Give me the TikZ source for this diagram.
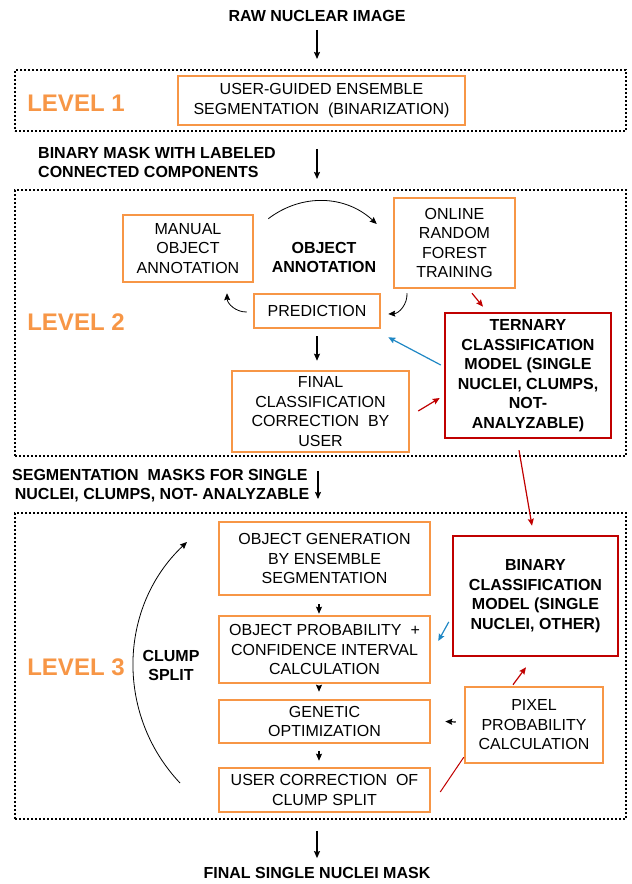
\documentclass[tikz,border=0pt]{standalone}
\usepackage{fontspec}
\setmainfont{Liberation Sans}
\usetikzlibrary{arrows.meta}
\definecolor{boxorange}{RGB}{247,150,70}
\definecolor{modelred}{RGB}{192,0,0}
\definecolor{arrowblue}{RGB}{31,135,196}

\begin{document}
\begin{tikzpicture}[x=1pt,y=1pt,
    every node/.style={font=\fontsize{16}{19.5}\selectfont},
    frame/.style={draw, line width=2pt, dash pattern=on 2pt off 2pt, inner sep=0pt},
    obox/.style={draw=boxorange, line width=2.5pt, align=center, inner sep=0pt},
    rbox/.style={draw=modelred, line width=2.5pt, align=center, inner sep=0pt, font=\fontsize{16}{19.5}\selectfont\bfseries},
    head/.style={inner sep=0pt, align=center, font=\fontsize{16}{19}\selectfont\bfseries},
    level/.style={inner sep=0pt, text=boxorange, font=\fontsize{24}{28}\selectfont\bfseries},
    arr/.style={-{Stealth[length=7pt,width=6pt,inset=1pt]}, line width=1.2pt},
    thinarr/.style={-{Stealth[length=7pt,width=6pt,inset=1pt]}, line width=0.8pt}]
    \useasboundingbox (0,0) rectangle (632,884);

    \node[frame, minimum width=611pt, minimum height=61pt] (lvlone) at (320.5,783.5) {}; % Level 1 frame
    \node[frame, minimum width=611pt, minimum height=266pt] (lvltwo) at (320.5,561) {}; % Level 2 frame
    \node[frame, minimum width=611pt, minimum height=306pt] (lvlthree) at (320.5,218) {}; % Level 3 frame

    \node[head] (raw) at (317,868) {RAW NUCLEAR IMAGE};
    \node[level] (levelone) at (76,781) {LEVEL 1};
    \node[obox, minimum width=287pt, minimum height=49pt] (binarize) at (321.5,783.5) {USER-GUIDED ENSEMBLE\\SEGMENTATION\ \ (BINARIZATION)};
    \node[head, align=left, anchor=west] (binmask) at (38,721.5) {BINARY MASK WITH LABELED\\CONNECTED COMPONENTS};

    % Level 2
    \node[level] (leveltwo) at (76,562) {LEVEL 2};
    \node[obox, minimum width=130pt, minimum height=67pt] (manual) at (188,635.5) {MANUAL\\OBJECT\\ANNOTATION};
    \node[head] (objann) at (324,627) {OBJECT\\ANNOTATION};
    \node[obox, minimum width=121pt, minimum height=90pt] (online) at (454.5,641) {ONLINE\\RANDOM\\FOREST\\TRAINING};
    \node[obox, minimum width=126pt, minimum height=34pt] (pred) at (317,573) {PREDICTION};
    \node[obox, minimum width=177pt, minimum height=81pt] (final) at (320.5,472.5) {FINAL\\CLASSIFICATION\\CORRECTION\ \ BY\\USER};
    \node[rbox, minimum width=166pt, minimum height=125pt] (ternary) at (528,508.5) {TERNARY\\CLASSIFICATION\\MODEL (SINGLE\\NUCLEI, CLUMPS,\\NOT-\\ANALYZABLE)};
    \node[head, align=left, anchor=west] (segmask) at (12,398.5) {SEGMENTATION\ \ MASKS FOR SINGLE\\\,NUCLEI, CLUMPS, NOT- ANALYZABLE};

    % Level 3
    \node[level] (levelthree) at (76,217) {LEVEL 3};
    \node[head] (clump) at (171,219) {CLUMP\\SPLIT};
    \node[obox, minimum width=211pt, minimum height=73pt] (objgen) at (324.5,325.5) {OBJECT GENERATION\\BY ENSEMBLE\\SEGMENTATION};
    \node[obox, minimum width=211pt, minimum height=67pt] (objprob) at (324.5,234.5) {OBJECT PROBABILITY\ \ +\\CONFIDENCE INTERVAL\\CALCULATION};
    \node[obox, minimum width=211pt, minimum height=43pt] (genetic) at (324.5,162.5) {GENETIC\\OPTIMIZATION};
    \node[obox, minimum width=211pt, minimum height=44pt] (usercorr) at (324.5,94) {USER CORRECTION\ \ OF\\CLUMP SPLIT};
    \node[rbox, minimum width=165pt, minimum height=120pt] (binary) at (535.5,288) {BINARY\\CLASSIFICATION\\MODEL (SINGLE\\NUCLEI, OTHER)};
    \node[obox, minimum width=138pt, minimum height=76pt] (pixel) at (534,159) {PIXEL\\PROBABILITY\\CALCULATION};
    \node[head] (finaltxt) at (317,11) {FINAL SINGLE NUCLEI MASK};
    \coordinate (splitlow) at (180,101);
    \coordinate (splithigh) at (187,342);

    % main flow
    \draw[arr, shorten <=8pt, shorten >=10pt] (raw.south) -- (raw.south |- lvlone.north);
    \draw[arr, shorten <=17pt, shorten >=10pt] (raw.south |- lvlone.south) -- (raw.south |- lvltwo.north);
    \draw[arr, shorten <=14pt, shorten >=13pt] ([xshift=1pt]raw.south |- lvltwo.south) -- ([xshift=1pt]raw.south |- lvlthree.north);
    \draw[arr, shorten <=11pt, shorten >=9pt] (raw.south |- lvlthree.south) -- (finaltxt.north);

    % annotation loop
    \draw[thinarr] ([xshift=14pt,yshift=-5pt]manual.north east) to[bend left=40] ([xshift=-16pt,yshift=19pt]online.west);
    \draw[thinarr] ([xshift=-47.5pt,yshift=-4pt]online.south) to[bend left=45] ([xshift=7pt,yshift=-3pt]pred.east);
    \draw[thinarr] ([xshift=-6pt,yshift=-1pt]pred.west) to[bend left=45] ([xshift=39pt,yshift=-10pt]manual.south);
    \draw[arr, shorten <=7pt, shorten >=9pt] (pred.south) -- (pred.south |- final.north);
    \draw[arr, draw=modelred] ([xshift=17.5pt,yshift=-4pt]online.south) -- ([xshift=-45pt,yshift=5pt]ternary.north);
    \draw[arr, draw=modelred] ([xshift=8pt,yshift=0.5pt]final.east) -- ([xshift=-4pt,yshift=-22.5pt]ternary.west);
    \draw[arr, draw=arrowblue] ([xshift=-3pt,yshift=10.5pt]ternary.west) -- ([xshift=7pt,yshift=-8pt]pred.south east);
    \draw[arr, draw=modelred] ([xshift=-9pt,yshift=-11pt]ternary.south) -- ([xshift=-3.5pt,yshift=9pt]binary.north);

    % clump split loop
    \draw[arr, shorten <=8pt, shorten >=1pt] ([xshift=-5.5pt]objgen.south) -- ([xshift=-5.5pt]objprob.north);
    \draw[arr, shorten <=2pt, shorten >=7pt] ([xshift=-5.5pt]objprob.south) -- ([xshift=-5.5pt]genetic.north);
    \draw[arr, shorten <=7pt, shorten >=6pt] ([xshift=-5.5pt]genetic.south) -- ([xshift=-5.5pt]usercorr.north);
    \draw[thinarr] (splitlow) to[bend left=45] (splithigh);
    \draw[arr, draw=arrowblue] ([xshift=-3pt,yshift=-26pt]binary.west) -- ([xshift=7pt,yshift=8.5pt]objprob.east);
    \draw[arr] ([xshift=-8pt,yshift=3pt]pixel.west) -- ([xshift=14pt]genetic.east);
    \draw[arr, draw=modelred] ([xshift=-21pt,yshift=1pt]pixel.north) -- ([xshift=-9.5pt,yshift=-10pt]binary.south);
    \draw[modelred, line width=1pt] ([yshift=7pt]pixel.south west) -- ([xshift=9pt,yshift=-2pt]usercorr.east);
\end{tikzpicture}
\end{document}
